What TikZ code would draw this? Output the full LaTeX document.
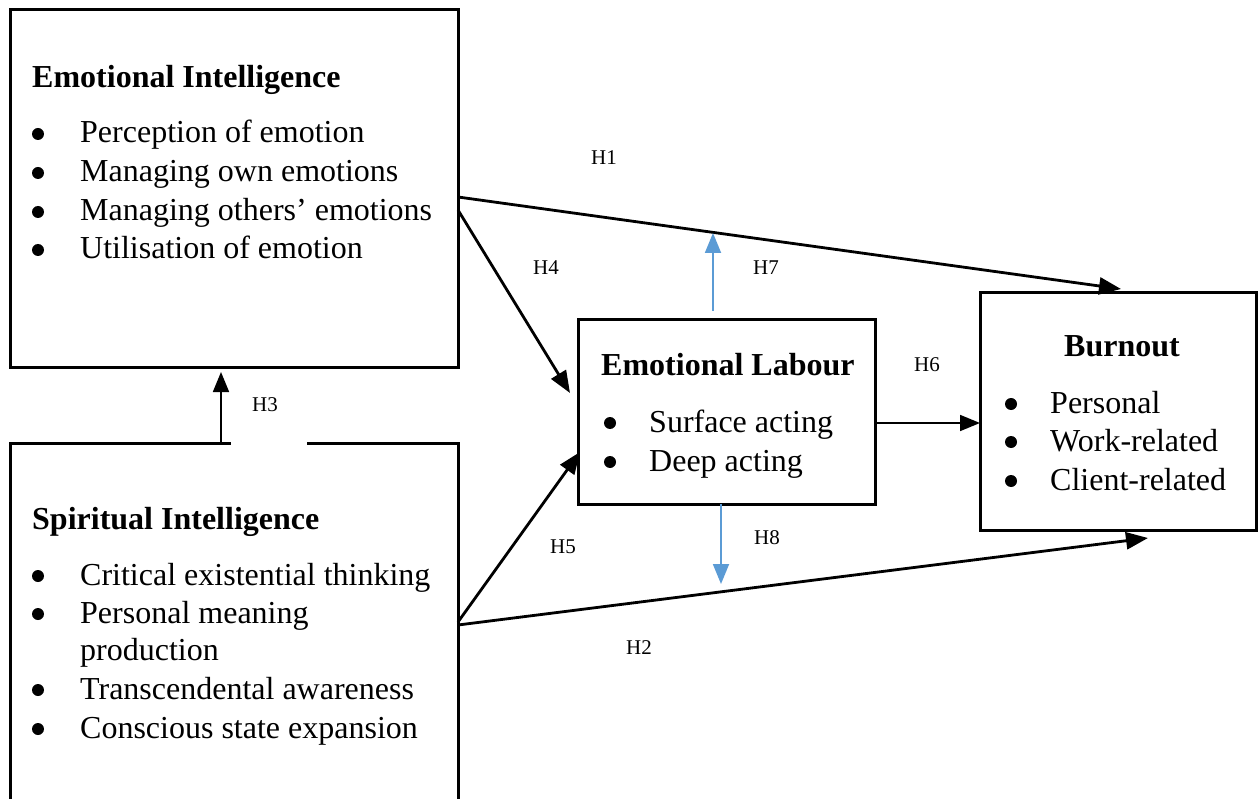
\documentclass[tikz,border=0pt]{standalone}
\usepackage{fontspec}
\setmainfont{Liberation Serif}
\usetikzlibrary{arrows.meta,calc}
\definecolor{blu}{HTML}{5B9BD5}
\begin{document}
\begin{tikzpicture}[x=1pt,y=-1pt,
  box/.style={draw, line width=3pt, anchor=north west, inner sep=0pt, outer sep=0pt},
  txt/.style={anchor=base west, inner sep=0pt, font=\fontsize{32}{38}\selectfont},
  ttl/.style={anchor=base west, inner sep=0pt, font=\fontsize{32}{38}\selectfont\bfseries},
  bul/.style={circle, fill=black, inner sep=0pt, minimum size=12pt},
  lbl/.style={anchor=center, inner sep=0pt, font=\fontsize{21}{25}\selectfont},
  arr/.style={line width=2.8pt, -{Triangle[length=22pt,width=17pt]}},
  thinarr/.style={line width=1.8pt, -{Triangle[length=20pt,width=16pt]}},
  bluarr/.style={line width=1.8pt, draw=blu, -{Triangle[length=20pt,width=16pt,fill=blu]}}]
\useasboundingbox (0,0) rectangle (1258,799);
\fill[white] (0,0) rectangle (1258,799);
% boxes
\node[box, minimum width=448pt, minimum height=358pt] (ei) at (10,10) {};
\node[box, minimum width=448pt, minimum height=400pt] (si) at (10,443) {};
\node[box, minimum width=297pt, minimum height=184pt] (el) at (578,320) {};
\node[box, minimum width=276pt, minimum height=237pt] (bo) at (980,293) {};
\draw[white, line width=3.4pt] ($(si.north west)+(221,0)$) -- ($(si.north west)+(297,0)$);
% EI text
\node[ttl] (eit) at (32,88) {Emotional Intelligence};
\foreach \y/\t [count=\i] in {143/Perception of emotion,182/Managing own emotions,221/Managing others’ emotions,259/Utilisation of emotion}{
  \node[bul] (eib\i) at (38,\y-9) {};
  \node[txt] (eii\i) at (80,\y) {\t};
}
% SI text
\node[ttl] (sit) at (32,529) {Spiritual Intelligence};
\foreach \y/\t [count=\i] in {585/Critical existential thinking,623/Personal meaning,699/Transcendental awareness,738/Conscious state expansion}{
  \node[bul] (sib\i) at (38,\y-9) {};
  \node[txt] (sii\i) at (80,\y) {\t};
}
\node[txt] (sii5) at (80,660) {production};
% EL text
\node[ttl] (elt) at (601,376) {Emotional Labour};
\node[bul] (elb1) at (610,423) {};
\node[txt] (eli1) at (649,432) {Surface acting};
\node[bul] (elb2) at (610,462) {};
\node[txt] (eli2) at (649,471) {Deep acting};
% Burnout text
\node[ttl] (bot) at (1064,357) {Burnout};
\foreach \y/\t [count=\i] in {413/Personal,451/Work-related,490/Client-related}{
  \node[bul] (bob\i) at (1011,\y-9) {};
  \node[txt] (boi\i) at (1050,\y) {\t};
}
% connectors
\draw[arr] ($(ei.north east)+(0,187)$) -- ($(bo.north west)+(141,-4)$);
\draw[arr] ($(ei.north east)+(0,200)$) -- ($(el.north west)+(-8,73)$);
\draw[arr] ($(si.north east)+(0,179)$) -- ($(el.north west)+(2,132)$);
\draw[arr] ($(si.north east)+(0,182)$) -- ($(bo.south west)+(168,8)$);
\draw[thinarr] ($(si.north west)+(211,0)$) -- ($(ei.south west)+(211,4)$);
\draw[thinarr] ($(el.north east)+(0,103)$) -- ($(bo.north west)+(0,130)$);
\draw[bluarr] ($(el.north west)+(135,-9)$) -- ($(el.north west)+(135,-87)$);
\draw[bluarr] ($(el.south west)+(143,0)$) -- ($(el.south west)+(143,80)$);
% labels
\node[lbl] (h1) at (604,158) {H1};
\node[lbl] (h4) at (546,268) {H4};
\node[lbl] (h7) at (766,268) {H7};
\node[lbl] (h6) at (927,365) {H6};
\node[lbl] (h3) at (265,405) {H3};
\node[lbl] (h5) at (563,547) {H5};
\node[lbl] (h8) at (767,538) {H8};
\node[lbl] (h2) at (639,648) {H2};
\end{tikzpicture}
\end{document}
